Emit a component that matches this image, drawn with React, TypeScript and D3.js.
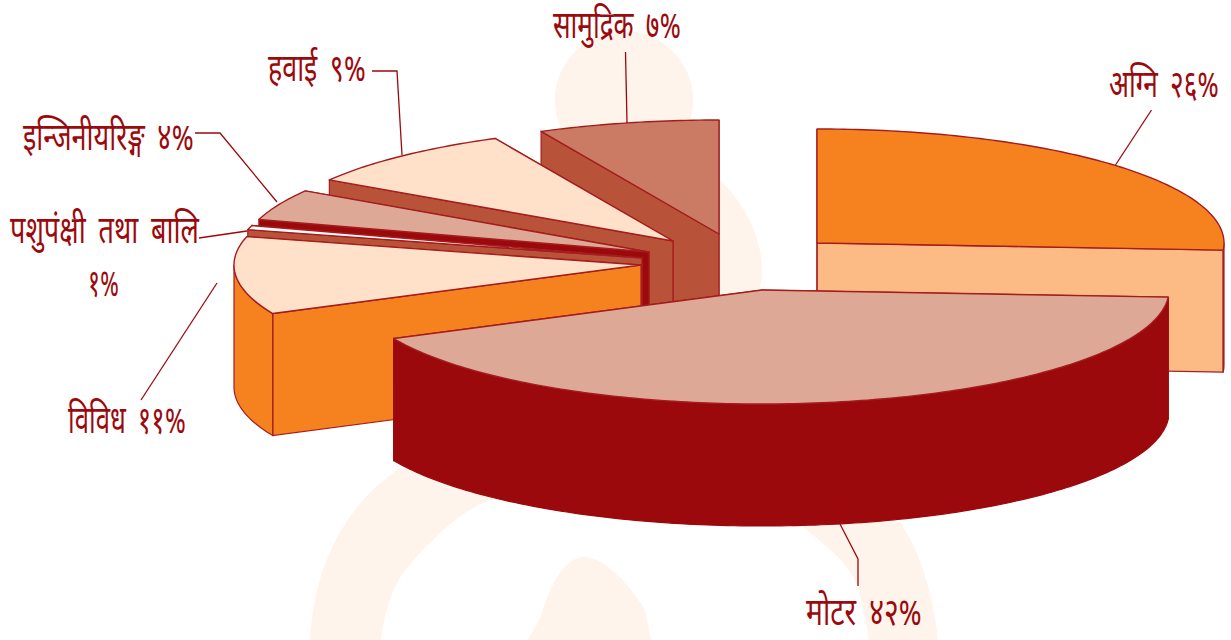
import React from "react";
import * as d3 from "d3";

// ---- data (drawn clockwise from 12 o'clock) ----
const sectors = ["अग्नि", "मोटर", "विविध", "पशुपंक्षी", "इन्जिनीयरिङ्ग", "हवाई", "सामुद्रिक"];
const shares = [26, 42, 11, 0.6, 4.4, 8.8, 7.2];
const labelTexts = [
  ["अग्नि २६%"],
  ["मोटर ४२%"],
  ["विविध ११%"],
  ["पशुपंक्षी तथा बालि", "१%"],
  ["इन्जिनीयरिङ्ग ४%"],
  ["हवाई ९%"],
  ["सामुद्रिक ७%"],
];

// ---- layout and style ----
const RX = 407;
const RY = 114;
const DEPTH = 122;
const INK = "#9B090D";
const EDGE = "#A51C1E";
const PALE = "#FFF4EC";
const FONT_SIZE = 38;
const WORD_GAP = 8;
const FONT_FAMILY = "'Noto Sans Devanagari','Noto Sans','Lato','DejaVu Sans',sans-serif";
const apexes: [number, number][] = [
  [817, 243], [762, 290], [641, 265], [642, 258], [649, 252], [673, 241], [719, 234],
];
const topFill = ["#F6821F", "#DDA896", "#FEE1C8", "#FFFFFF", "#DDA896", "#FEE1C8", "#CB7B63"];
const wallFill = ["#FCBB84", "#9B090D", "#F6821F", "#B85238", "#9B090D", "#B85238", "#B85238"];
const paintOrder = [6, 5, 4, 3, 2, 0, 1];
const labelBoxes: { x: number; w: number; y: number }[][] = [
  [{ x: 1109, w: 110, y: 97 }],
  [{ x: 806, w: 116, y: 625 }],
  [{ x: 68, w: 118, y: 433 }],
  [{ x: 10, w: 189, y: 243 }, { x: 88, w: 31, y: 296 }],
  [{ x: 23, w: 171, y: 150 }],
  [{ x: 268, w: 98, y: 81 }],
  [{ x: 553, w: 128, y: 38 }],
];
const leaderPaths: [number, number][][] = [
  [[1151.5, 110], [1115.5, 165]],
  [[840, 524], [858, 559], [858, 586]],
  [[217, 283], [141, 400]],
  [[199, 238], [247, 231]],
  [[195, 133], [220, 133], [277, 202]],
  [[372, 71], [397, 71], [402, 155]],
  [[625.5, 52], [627, 123]],
];
const watermark = [
  "M310,640 C314,565 345,505 400,468 L900,522 C915,545 922,565 927,583 C933,603 936,622 938,640 L869,640 C866,620 862,600 855,580 C843,558 825,545 803,527 L490,500 C465,510 448,525 433,540 C412,560 395,580 390,600 C385,615 382,628 381,640 Z",
  "M527,640 C535,628 540,620 542,613 C550,585 565,557 584,557 C605,557 630,585 645,610 L651,640 Z",
  "M700,165 C740,190 762,235 762,270 C762,282 760,290 755,300 L700,300 Z",
];

const line = d3.line<[number, number]>();
const pieGen = d3.pie<number>().sort(null).value((d) => d);

// Horizontal squeeze that makes a label fill the width it has in the picture.
const measureCtx = document.createElement("canvas").getContext("2d")!;
function squeeze(t: string, w: number) {
  measureCtx.font = `${FONT_SIZE}px ${FONT_FAMILY}`;
  const natural = measureCtx.measureText(t).width + WORD_GAP * (t.split(" ").length - 1);
  return w / natural;
}

export default function App() {
  const arcs = pieGen(shares);
  const pt = (c: [number, number], a: number, dy = 0): [number, number] => [
    c[0] + RX * Math.sin(a),
    c[1] - RY * Math.cos(a) + dy,
  ];
  const sample = (c: [number, number], a0: number, a1: number, dy = 0) => {
    const n = Math.max(2, Math.ceil(Math.abs(a1 - a0) * 60));
    return d3.range(n + 1).map((i) => pt(c, a0 + ((a1 - a0) * i) / n, dy));
  };
  return (
    <svg
      width={1231}
      height={640}
      viewBox="0 0 1231 640"
      style={{ position: "absolute", left: 0, top: 0, display: "block", background: "#fff" }}
    >
      <circle cx={624} cy={100} r={69} fill={PALE} />
      {watermark.map((d, i) => (
        <path key={i} d={d} fill={PALE} />
      ))}

      {paintOrder.map((i) => {
        const c = apexes[i];
        const { startAngle: a0, endAngle: a1 } = arcs[i];
        const top = [c as [number, number], ...sample(c, a0, a1)];
        const p0 = pt(c, a0);
        const p1 = pt(c, a1);
        const cutA: [number, number][] = [c, p0, [p0[0], p0[1] + DEPTH], [c[0], c[1] + DEPTH]];
        const cutB: [number, number][] = [c, p1, [p1[0], p1[1] + DEPTH], [c[0], c[1] + DEPTH]];
        // Outer wall: front half of the rim only (angles 90deg..270deg from 12 o'clock)
        const lo = Math.max(a0, Math.PI / 2);
        const hi = Math.min(a1, (3 * Math.PI) / 2);
        const wall = hi > lo ? [...sample(c, lo, hi), ...sample(c, hi, lo, DEPTH)] : null;
        return (
          <g key={sectors[i]}>
            <path d={line(cutB) + "Z"} fill={wallFill[i]} stroke={EDGE} strokeWidth={1.2} />
            <path d={line(cutA) + "Z"} fill={wallFill[i]} stroke={EDGE} strokeWidth={1.2} />
            {wall && (
              <path
                d={line(wall) + "Z"}
                fill={wallFill[i]}
                stroke={i === 1 ? wallFill[i] : EDGE}
                strokeWidth={1.2}
              />
            )}
            <path d={line(top) + "Z"} fill={topFill[i]} stroke={EDGE} strokeWidth={1.4} strokeLinejoin="round" />
          </g>
        );
      })}

      {leaderPaths.map((p, i) => (
        <path key={i} d={line(p) ?? ""} fill="none" stroke={INK} strokeWidth={1.3} />
      ))}

      {labelTexts.map((lines, i) =>
        lines.map((t, j) => {
          const b = labelBoxes[i][j];
          return (
            <text
              key={t}
              transform={`translate(${b.x},${b.y}) scale(${squeeze(t, b.w)},1)`}
              fontFamily={FONT_FAMILY}
              fontSize={FONT_SIZE}
              wordSpacing={WORD_GAP}
              fill={INK}
            >
              {t}
            </text>
          );
        })
      )}
    </svg>
  );
}
